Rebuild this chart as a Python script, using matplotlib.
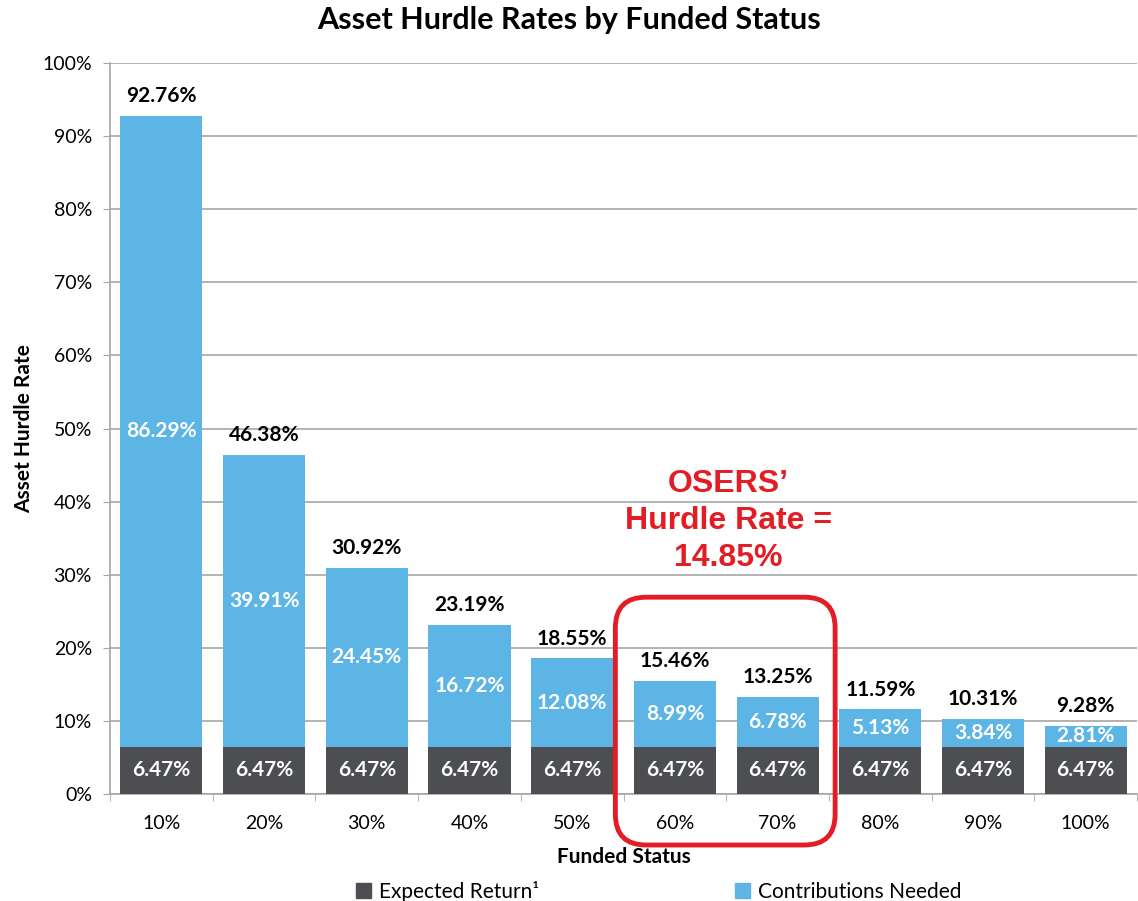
import matplotlib
matplotlib.use("Agg")
import matplotlib.pyplot as plt
from matplotlib.patches import FancyBboxPatch, Patch
import numpy as np

plt.rcParams['font.family'] = ['Lato', 'DejaVu Sans']

funded = ["10%", "20%", "30%", "40%", "50%", "60%", "70%", "80%", "90%", "100%"]
expected_return = [6.47, 6.47, 6.47, 6.47, 6.47, 6.47, 6.47, 6.47, 6.47, 6.47]
contributions = [86.29, 39.91, 24.45, 16.72, 12.08, 8.99, 6.78, 5.13, 3.84, 2.81]
totals = [92.76, 46.38, 30.92, 23.19, 18.55, 15.46, 13.25, 11.59, 10.31, 9.28]

dark = "#4d4e51"
blue = "#5db5e5"
red = "#e31d25"
grid_col = "#a6a6a6"

fig = plt.figure(figsize=(11.38, 9.01), dpi=100)
ax = fig.add_axes([0.0967, 0.1187, 0.9025, 0.8113])

x = np.arange(len(funded))
w = 0.8
ax.bar(x, expected_return, w, color=dark, zorder=3)
ax.bar(x, contributions, w, bottom=expected_return, color=blue, zorder=3)

for i in range(len(funded)):
    ax.text(x[i], expected_return[i] / 2, f"{expected_return[i]:.2f}%", ha="center", va="center",
            color="white", fontsize=15, fontweight="bold", zorder=4)
    ax.text(x[i], expected_return[i] + contributions[i] / 2, f"{contributions[i]:.2f}%", ha="center",
            va="center", color="white", fontsize=15, fontweight="bold", zorder=4)
    ax.annotate(f"{totals[i]:.2f}%", (x[i], totals[i]), xytext=(0, 7), textcoords="offset points",
                ha="center", va="bottom", fontsize=15, fontweight="bold", color="black")

ax.set_xlim(-0.5, len(funded) - 0.5)
ax.set_ylim(0, 100)
ax.set_yticks(np.arange(0, 101, 10))
ax.set_yticklabels([f"{v}%" for v in range(0, 101, 10)])
ax.set_xticks(x)
ax.set_xticklabels(funded)
ax.set_xticks(np.arange(-0.5, len(funded), 1), minor=True)
ax.tick_params(axis="x", which="major", length=0, labelsize=14, pad=15)
ax.tick_params(axis="x", which="minor", length=5, color=grid_col)
ax.tick_params(axis="y", length=5, color=grid_col, labelsize=14, pad=8)
ax.yaxis.grid(True, color=grid_col, linewidth=1.2, zorder=0)
ax.set_axisbelow(True)
for s in ["top", "right"]:
    ax.spines[s].set_visible(False)
for s in ["left", "bottom"]:
    ax.spines[s].set_color(grid_col)
    ax.spines[s].set_linewidth(1.2)

ax.set_xlabel("Funded Status", fontsize=15, fontweight="bold", labelpad=11)
ax.set_ylabel("Asset Hurdle Rate", fontsize=15, fontweight="bold", labelpad=6)
fig.suptitle("Asset Hurdle Rates by Funded Status", fontsize=22, fontweight="bold", y=0.993)

# OSERS highlight
ax.text(5.52, 37.3, "OSERS\u2019\nHurdle Rate =\n14.85%", ha="center", va="center", color=red,
        fontsize=23, fontweight="bold", family=["Liberation Sans", "DejaVu Sans"], linespacing=1.3)
box = FancyBboxPatch((4.42, -6.97), 2.14, 33.9, boxstyle="round,pad=0,rounding_size=0.3",
                     mutation_aspect=14.05, fill=False, edgecolor=red, linewidth=3.5,
                     clip_on=False, zorder=5)
ax.add_patch(box)

handles = [Patch(color=dark, label="Expected Return\u00b9"), Patch(color=blue, label="Contributions Needed")]
fig.legend(handles=handles, loc="lower center", bbox_to_anchor=(0.579, -0.022), ncol=2, frameon=False,
           fontsize=15, columnspacing=9.4, handlelength=0.7, handleheight=0.7, handletextpad=0.4)

fig.savefig("out.png", dpi=100)
